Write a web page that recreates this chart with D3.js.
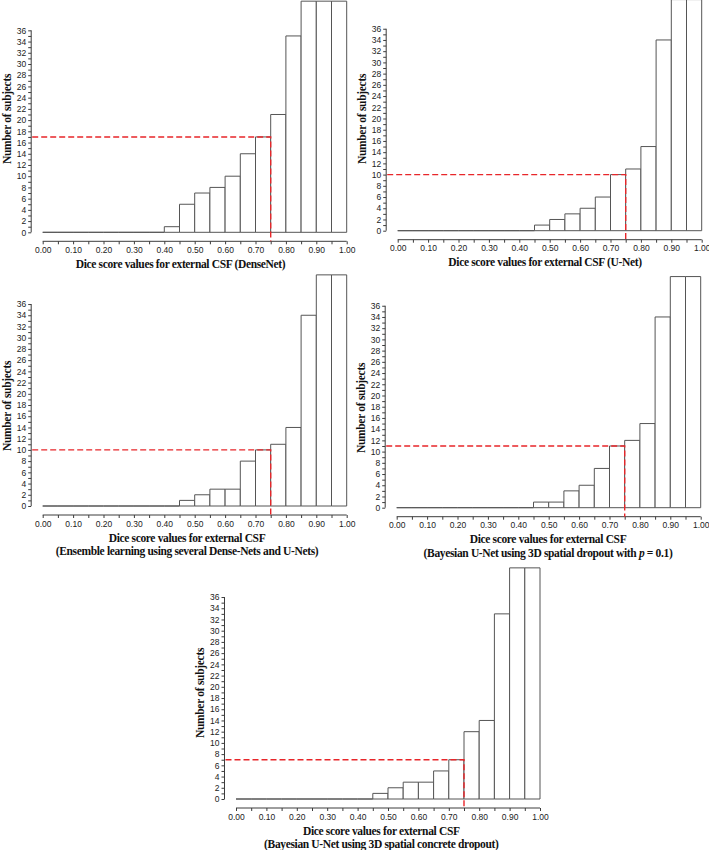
<!DOCTYPE html>
<html>
<head>
<meta charset="utf-8">
<script src="https://cdn.jsdelivr.net/npm/d3@7"></script>
<style>
  html, body { margin: 0; padding: 0; background: #fff; }
  svg { display: block; }
</style>
</head>
<body>
<svg id="chart" width="709" height="850"></svg>
<script>
// ---------------- DATA ----------------
const binEdges = [0.00, 0.05, 0.10, 0.15, 0.20, 0.25, 0.30, 0.35, 0.40, 0.45,
                  0.50, 0.55, 0.60, 0.65, 0.70, 0.75, 0.80, 0.85, 0.90, 0.95, 1.00];
const xTickLabels = ["0.00","0.10","0.20","0.30","0.40","0.50","0.60","0.70","0.80","0.90","1.00"];
const yTickLabels = ["0","2","4","6","8","10","12","14","16","18","20","22","24","26","28","30","32","34","36"];

// counts per bin (bars above the plotted range are clipped in the original; values estimated)
const countsDenseNet      = [0,0,0,0,0,0,0,0,1,5,7,8,10,14,17,21,35,42,42,42];
const countsUNet          = [0,0,0,0,0,0,0,0,0,1,2,3,4,6,10,11,15,34,42,42];
const countsEnsemble      = [0,0,0,0,0,0,0,0,0,1,2,3,3,8,10,11,14,34,42,42];
const countsBayesSpatial  = [0,0,0,0,0,0,0,0,0,1,1,3,4,7,11,12,15,34,42,42];
const countsBayesConcrete = [0,0,0,0,0,0,0,0,0,1,2,3,3,5,7,12,14,33,42,42];

const thresholdX = 0.75;
const thresholdCounts = [17, 10, 10, 11, 7];

const titleLine1 = [
  "Dice score values for external CSF (DenseNet)",
  "Dice score values for external CSF (U-Net)",
  "Dice score values for external CSF",
  "Dice score values for external CSF",
  "Dice score values for external CSF"
];
const titleLine2 = [
  null,
  null,
  "(Ensemble learning using several Dense-Nets and U-Nets)",
  "(Bayesian U-Net using 3D spatial dropout with |p| = 0.1)",
  "(Bayesian U-Net using 3D spatial concrete dropout)"
];
const yTitle = "Number of subjects";

// ---------------- LAYOUT ----------------
const allCounts = [countsDenseNet, countsUNet, countsEnsemble, countsBayesSpatial, countsBayesConcrete];
// x0: pixel of 0.00, y0: pixel of count 0
const panels = [
  { x0: 42.7,  y0: 232.3, titleCx: 180.5, yTitleCy: 119 },
  { x0: 397.7, y0: 230.7, titleCx: 545,   yTitleCy: 119 },
  { x0: 42.7,  y0: 506.0, titleCx: 187,   yTitleCy: 406 },
  { x0: 396.7, y0: 507.7, titleCx: 548,   yTitleCy: 408 },
  { x0: 236.0, y0: 799.0, titleCx: 381.3, yTitleCy: 693 }
];
const plotW = 304;      // width of 0..1
const unitH = 5.61;     // px per subject
const yClampMax = 41.2; // top of drawing region

const svg = d3.select("#chart");
const axisColor = "#3c3c3c";
const barColor = "#555";
const red = "#e8262a";
const serif = "'Liberation Serif', 'Times New Roman', serif";
const sans = "'Liberation Sans', Arial, sans-serif";

panels.forEach((p, i) => {
  const counts = allCounts[i];
  const x = d3.scaleLinear().domain([0, 1]).range([p.x0, p.x0 + plotW]);
  const y = d3.scaleLinear().domain([0, 36]).range([p.y0, p.y0 - 36 * unitH]);
  const g = svg.append("g");

  // bars (as paths so zero-height bins still show their outline)
  g.selectAll("path.bar")
    .data(counts)
    .join("path")
    .attr("class", "bar")
    .attr("d", (c, k) => {
      const xa = x(binEdges[k]), xb = x(binEdges[k + 1]);
      const yt = y(Math.min(c, yClampMax));
      return `M${xa},${p.y0}V${yt}H${xb}V${p.y0}Z`;
    })
    .attr("fill", "#fff")
    .attr("stroke", barColor)
    .attr("stroke-width", 1);

  // x axis
  const axisY = p.y0 + 9;
  const xAxis = d3.axisBottom(x)
    .tickValues(binEdges)
    .tickSize(3)
    .tickFormat((d, k) => (k % 2 === 0 ? xTickLabels[k / 2] : ""));
  const gx = g.append("g").attr("transform", `translate(0,${axisY})`).call(xAxis);
  gx.select(".domain").attr("stroke", axisColor).attr("d", `M${x(0)},0H${x(1)}`);
  gx.selectAll(".tick line").attr("stroke", axisColor);
  gx.selectAll(".tick text")
    .attr("y", 5.5)
    .attr("fill", "#222")
    .style("font-family", sans)
    .style("font-size", "8.5px");

  // y axis
  const yAxisX = p.x0 - 11.5;
  const yTicks = d3.range(0, 37, 1);
  const yAxis = d3.axisLeft(y)
    .tickValues(yTicks)
    .tickSize(3)
    .tickFormat(d => (d % 2 === 0 ? yTickLabels[d / 2] : ""));
  const gy = g.append("g").attr("transform", `translate(${yAxisX},0)`).call(yAxis);
  gy.select(".domain").attr("stroke", axisColor).attr("d", `M0,${y(0)}V${y(36)}`);
  gy.selectAll(".tick line").attr("stroke", axisColor);
  gy.selectAll(".tick text")
    .attr("x", -5)
    .attr("fill", "#222")
    .style("font-family", sans)
    .style("font-size", "8.5px");

  // red dashed threshold lines
  const tv = thresholdCounts[i];
  g.append("path")
    .attr("d", `M${yAxisX + 1},${y(tv)}H${x(thresholdX)}V${axisY}`)
    .attr("fill", "none")
    .attr("stroke", red)
    .attr("stroke-width", 1.4)
    .attr("stroke-dasharray", "6,3");

  // x title
  g.append("text")
    .attr("x", p.titleCx)
    .attr("y", p.y0 + 33)
    .attr("text-anchor", "middle")
    .attr("dominant-baseline", "middle")
    .style("font-family", serif)
    .style("font-weight", "bold")
    .style("font-size", "11.5px")
    .style("letter-spacing", "-0.35px")
    .attr("fill", "#111")
    .text(titleLine1[i]);
  if (titleLine2[i]) {
    const t2 = g.append("text")
      .attr("x", p.titleCx)
      .attr("y", p.y0 + 46)
      .attr("text-anchor", "middle")
      .attr("dominant-baseline", "middle")
      .style("font-family", serif)
      .style("font-weight", "bold")
      .style("font-size", "11.5px")
      .style("letter-spacing", "-0.35px")
      .attr("fill", "#111");
    const parts = titleLine2[i].split("|");
    parts.forEach((s, k) => {
      t2.append("tspan").text(s).style("font-style", k % 2 === 1 ? "italic" : "normal");
    });
  }

  // y title
  g.append("text")
    .attr("transform", `translate(${yAxisX - 23},${p.yTitleCy}) rotate(-90)`)
    .attr("text-anchor", "middle")
    .attr("dominant-baseline", "middle")
    .style("font-family", serif)
    .style("font-weight", "bold")
    .style("font-size", "11.5px")
    .style("letter-spacing", "-0.3px")
    .attr("fill", "#111")
    .text(yTitle);
});
</script>
</body>
</html>
